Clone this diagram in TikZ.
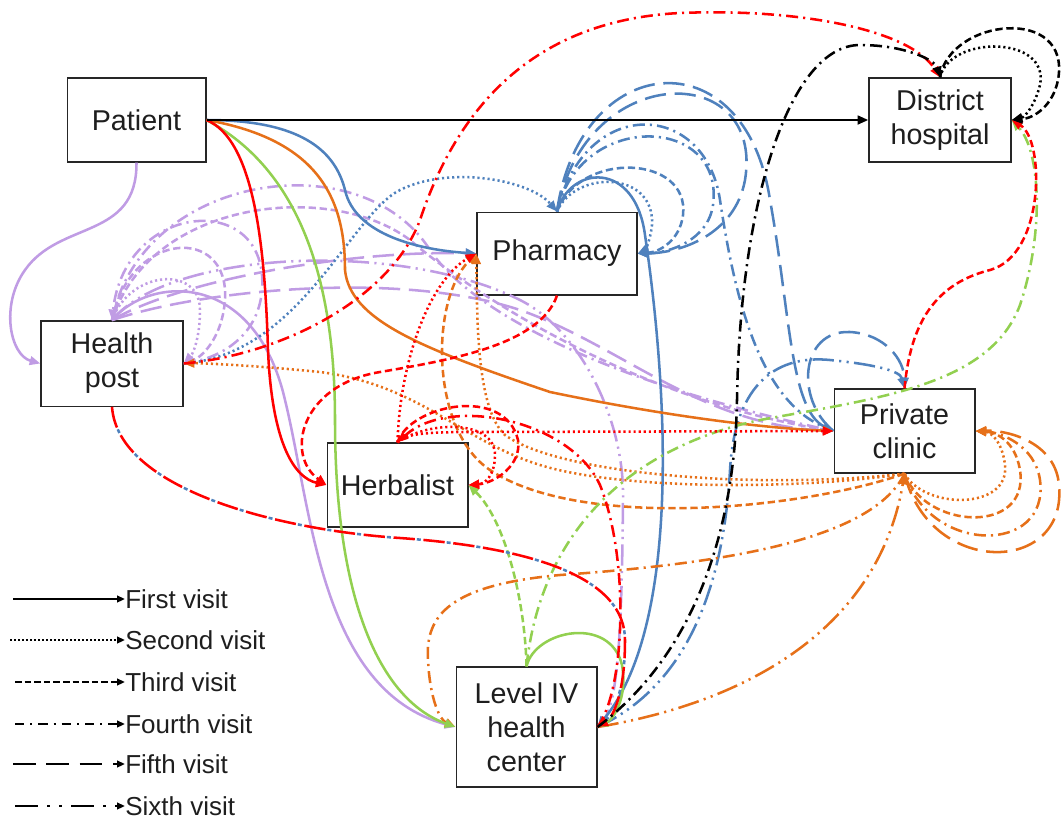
\documentclass[tikz,border=0pt]{standalone}
\usepackage{fontspec}
\setmainfont{Liberation Sans}
\usetikzlibrary{arrows.meta}
\definecolor{cpur}{RGB}{192,156,228}
\definecolor{cgrn}{RGB}{146,208,80}
\definecolor{cred}{RGB}{255,0,0}
\definecolor{corg}{RGB}{230,112,25}
\definecolor{cblu}{RGB}{79,129,189}
\definecolor{ctxt}{RGB}{30,30,30}
\begin{document}
\begin{tikzpicture}[x=0.75pt,y=-0.75pt,
  box/.style={draw=black!85, line width=1pt, inner sep=0pt, align=center, text=ctxt,
    font=\fontsize{21.5pt}{25.5pt}\selectfont},
  lk/.style={line width=1.9pt},
  vtwo/.style={dash pattern=on 1.6pt off 2.2pt},
  vthree/.style={dash pattern=on 5.5pt off 2.8pt},
  vfour/.style={dash pattern=on 9pt off 3.8pt on 1.6pt off 3.8pt},
  vfive/.style={dash pattern=on 16pt off 6.5pt},
  vsix/.style={dash pattern=on 16pt off 4pt on 1.6pt off 4pt on 1.6pt off 4pt},
  ar/.style={-{Triangle[length=8pt,width=6.5pt]}},
  legline/.style={line width=1.6pt, black, -{Triangle[length=6pt,width=5pt]}},
  legtxt/.style={inner sep=0pt, anchor=west, text=ctxt, font=\fontsize{19.5pt}{23pt}\selectfont}]
\useasboundingbox (0,0) rectangle (1061,819);

% nodes
\node[box, minimum width=104pt, minimum height=63pt] (pat) at (136.5,120) {Patient};
\node[box, minimum width=106.5pt, minimum height=63pt] (dh) at (940,120) {District\\hospital};
\node[box, minimum width=120pt, minimum height=62pt] (ph) at (557,253.5) {Pharmacy};
\node[box, minimum width=106.5pt, minimum height=64pt] (hp) at (112,363.5) {Health\\post};
\node[box, minimum width=105.5pt, minimum height=63pt] (pc) at (904.5,431) {Private\\clinic};
\node[box, minimum width=105.5pt, minimum height=63pt] (hb) at (397.5,485) {Herbalist};
\node[box, minimum width=105.5pt, minimum height=90pt] (l4) at (526.5,727) {Level IV\\health\\center};

% purple pathway
\draw[lk,cpur,ar] (pat.south) .. controls (137,240) and (60,220) .. (25,270) .. controls (0,305) and (10,355) .. (hp.west);
\draw[lk,cpur,ar] (hp.north) .. controls (150,275) and (255,270) .. (285,400) .. controls (312,510) and (320,690) .. (l4.west);
\draw[lk,cpur,vtwo,ar] (hp.north) .. controls (130,270) and (200,265) .. (200,310) .. controls (200,340) and (192,355) .. (hp.east);
\draw[lk,cpur,vthree,ar] (hp.north) .. controls (130,230) and (230,225) .. (225,300) .. controls (222,340) and (200,358) .. (hp.east);
\draw[lk,cpur,vfour,ar] (hp.east) .. controls (215,360) and (258,340) .. (262,290) .. controls (270,190) and (125,200) .. (hp.north);
\draw[lk,cpur,vfive,ar] (hp.north) .. controls (180,280) and (350,250) .. (ph.west);
\draw[lk,cpur,vfive,ar] (hp.north) .. controls (200,290) and (400,270) .. (520,310) .. controls (620,345) and (700,425) .. (pc.west);
\draw[lk,cpur,vfour,ar] (hp.north) .. controls (140,175) and (360,140) .. (430,250) .. controls (470,310) and (600,380) .. (pc.west);
\draw[lk,cpur,vthree,ar] (hp.north) .. controls (150,200) and (330,180) .. (410,240) .. controls (480,300) and (640,400) .. (pc.west);
\draw[lk,cpur,vsix,ar] (hp.north) .. controls (170,250) and (400,240) .. (520,300) .. controls (580,330) and (625,420) .. (623,500) .. controls (622,600) and (620,700) .. (l4.east);

% blue pathway
\draw[lk,cblu,ar] (pat.east) .. controls (300,120) and (335,150) .. (345,190) .. controls (355,235) and (420,250) .. (ph.west);
\draw[lk,cblu,vtwo,ar] (hp.east) .. controls (300,355) and (350,215) .. (400,190) .. controls (450,165) and (530,180) .. (ph.north);
\draw[lk,cblu,ar] (ph.north) .. controls (570,165) and (635,160) .. (645,235) .. controls (665,370) and (685,620) .. (l4.east);
\draw[lk,cblu,vtwo,ar] (ph.north) .. controls (575,170) and (655,170) .. (652,225) .. controls (650,242) and (645,250) .. (ph.east);
\draw[lk,cblu,vthree,ar] (ph.north) .. controls (580,150) and (690,155) .. (683,215) .. controls (680,240) and (660,252) .. (ph.east);
\draw[lk,cblu,vfour,ar] (ph.north) .. controls (580,110) and (725,115) .. (713,205) .. controls (708,240) and (670,253) .. (ph.east);
\draw[lk,cblu,vfive,ar] (ph.north) .. controls (585,60) and (765,60) .. (745,180) .. controls (735,235) and (680,253) .. (ph.east);
\draw[lk,cblu,vfive,ar] (ph.north) .. controls (580,50) and (745,35) .. (770,200) .. controls (790,310) and (790,410) .. (pc.west);
\draw[lk,cblu,vfour,ar] (ph.north) .. controls (585,95) and (705,100) .. (720,200) .. controls (735,300) and (760,400) .. (pc.west);
\draw[lk,cblu,vfive,ar] (pc.west) .. controls (795,400) and (800,330) .. (850,332) .. controls (885,334) and (904,360) .. (pc.north);
\draw[lk,cblu,vsix,ar] (l4.east) .. controls (700,680) and (725,560) .. (730,470) .. controls (735,380) and (780,355) .. (830,360) .. controls (870,364) and (900,370) .. (pc.north);

% orange pathway
\draw[lk,corg,ar] (pat.east) .. controls (320,140) and (345,200) .. (345,270) .. controls (350,320) and (420,348) .. (550,392) .. controls (660,415) and (760,428) .. (pc.west);
\draw[lk,corg,vtwo,ar] (pc.south) .. controls (925,510) and (1010,510) .. (1005,465) .. controls (1002,440) and (990,432) .. (pc.east);
\draw[lk,corg,vthree,ar] (pc.south) .. controls (925,530) and (1030,535) .. (1020,470) .. controls (1015,440) and (995,432) .. (pc.east);
\draw[lk,corg,vfour,ar] (pc.south) .. controls (930,555) and (1050,555) .. (1040,480) .. controls (1035,445) and (1000,432) .. (pc.east);
\draw[lk,corg,vfive,ar] (pc.south) .. controls (930,580) and (1075,575) .. (1058,478) .. controls (1050,440) and (1005,430) .. (pc.east);
\draw[lk,corg,vtwo,ar] (pc.south) .. controls (800,490) and (620,490) .. (540,465) .. controls (460,440) and (420,385) .. (320,372) .. controls (250,365) and (200,363) .. (hp.east);
\draw[lk,corg,vtwo,ar] (pc.south) .. controls (760,490) and (560,475) .. (505,435) .. controls (478,410) and (477,330) .. (ph.west);
\draw[lk,corg,vthree,ar] (pc.south) .. controls (800,510) and (580,530) .. (490,470) .. controls (430,430) and (430,300) .. (ph.west);
\draw[lk,corg,vfour,ar] (pc.south) .. controls (870,545) and (700,565) .. (560,575) .. controls (450,585) and (425,615) .. (428,660) .. controls (430,700) and (440,720) .. (l4.west);
\draw[lk,corg,vsix,ar] (l4.east) .. controls (760,700) and (880,620) .. (pc.south);

% green pathway
\draw[lk,cgrn,ar] (pat.east) .. controls (300,170) and (335,280) .. (335,420) .. controls (335,600) and (380,700) .. (l4.west);
\draw[lk,cgrn,ar] (l4.north) .. controls (535,630) and (610,615) .. (622,665) .. controls (628,700) and (612,720) .. (l4.east);
\draw[lk,cgrn,vthree,ar] (l4.north) .. controls (525,600) and (505,520) .. (hb.east);
\draw[lk,cgrn,vfour,ar] (l4.north) .. controls (540,540) and (620,450) .. (760,420) .. controls (880,398) and (990,385) .. (1020,305) .. controls (1045,230) and (1040,150) .. (dh.east);

% red pathway
\draw[lk,cred,ar] (pat.east) .. controls (255,140) and (265,250) .. (268,350) .. controls (272,445) and (295,478) .. (hb.west);
\draw[lk,cred,vtwo,ar] (hb.north) .. controls (400,360) and (430,280) .. (ph.west);
\draw[lk,cred,vtwo,ar] (hb.north) .. controls (405,433) and (430,432) .. (480,432) -- (pc.west);
\draw[lk,cred,vtwo,ar] (hb.north) .. controls (430,420) and (495,420) .. (495,455) .. controls (495,475) and (485,484) .. (hb.east);
\draw[lk,cred,vthree,ar] (hb.north) .. controls (410,405) and (505,385) .. (518,440) .. controls (522,465) and (495,483) .. (hb.east);
\draw[lk,cred,vthree,ar] (ph.south) .. controls (540,345) and (450,360) .. (380,372) .. controls (300,385) and (285,455) .. (hb.west);
\draw[lk,cred,vfour,ar] (l4.east) .. controls (625,690) and (630,560) .. (600,485) .. controls (570,420) and (450,395) .. (hb.north);
\draw[lk,cblu,dash pattern=on 3pt off 19.5pt,dash phase=5pt] (hp.south) .. controls (118,490) and (280,530) .. (400,538) .. controls (540,548) and (625,580) .. (625,640) .. controls (625,700) and (610,720) .. (l4.east);
\draw[lk,cred,vfive,ar] (hp.south) .. controls (118,490) and (280,530) .. (400,538) .. controls (540,548) and (625,580) .. (625,640) .. controls (625,700) and (610,720) .. (l4.east);
\draw[lk,cred,vfour,ar] (hp.east) .. controls (280,355) and (390,300) .. (420,220) .. controls (460,100) and (540,20) .. (680,13) .. controls (800,8) and (910,30) .. (dh.north);
\draw[lk,cred,vthree,ar] (pc.north) .. controls (910,330) and (930,285) .. (990,270) .. controls (1045,255) and (1045,140) .. (dh.east);

% black pathway
\draw[lk,black,ar] (pat.east) -- (dh.west);
\draw[lk,black,vtwo,ar] (dh.north) .. controls (950,35) and (1050,35) .. (1040,85) .. controls (1035,105) and (1025,117) .. (dh.east);
\draw[lk,black,vthree,ar] (dh.north) .. controls (950,18) and (1072,5) .. (1058,80) .. controls (1053,105) and (1035,118) .. (dh.east);
\draw[lk,black,vfour,ar] (l4.east) .. controls (700,650) and (735,520) .. (737,400) .. controls (740,200) and (790,45) .. (860,45) .. controls (905,45) and (935,60) .. (dh.north);

% legend
\coordinate (la) at (13,599);
\coordinate (lb) at (10,640);
\coordinate (lc) at (15,682);
\coordinate (ld) at (15,724);
\coordinate (le) at (13,764);
\coordinate (lf) at (15,806);
\node[legtxt] (ta) at (125,599) {First visit};
\node[legtxt] (tb) at (125,640) {Second visit};
\node[legtxt] (tc) at (125,682) {Third visit};
\node[legtxt] (td) at (125,724) {Fourth visit};
\node[legtxt] (te) at (125,764) {Fifth visit};
\node[legtxt] (tf) at (125,806) {Sixth visit};
\draw[legline] (la) -- (ta.west);
\draw[legline,dash pattern=on 1.5pt off 1.5pt] (lb) -- (tb.west);
\draw[legline,dash pattern=on 5pt off 2.2pt] (lc) -- (tc.west);
\draw[legline,dash pattern=on 7pt off 4.5pt on 1.5pt off 4.5pt] (ld) -- (td.west);
\draw[legline,dash pattern=on 17pt off 8pt] (le) -- (te.west);
\draw[legline,dash pattern=on 17pt off 7pt on 2pt off 7pt on 2pt off 7pt] (lf) -- (tf.west);
\end{tikzpicture}
\end{document}
